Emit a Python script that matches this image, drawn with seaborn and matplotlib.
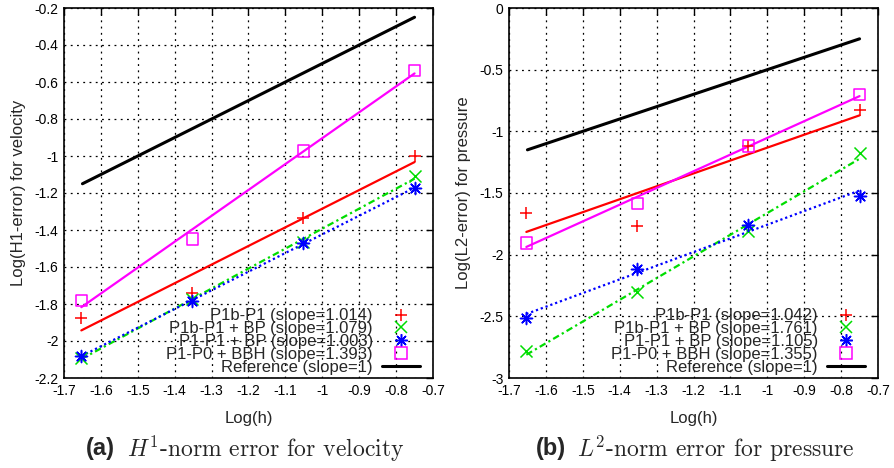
import matplotlib
matplotlib.use("Agg")
import matplotlib.pyplot as plt
import numpy as np
import pandas as pd
import seaborn as sns
from matplotlib.lines import Line2D
from matplotlib.ticker import FuncFormatter, MultipleLocator

# log10 of mesh size
log_h = [-1.653, -1.352, -1.051, -0.750]

series_names = ["P1b-P1", "P1b-P1 + BP", "P1-P1 + BP", "P1-P0 + BBH"]

# velocity, H1 error (log10)
vel_p1b_p1 = [-1.876, -1.74, -1.335, -1.00]
vel_p1b_p1_bp = [-2.09, -1.775, -1.465, -1.11]
vel_p1_p1_bp = [-2.08, -1.784, -1.47, -1.173]
vel_p1_p0_bbh = [-1.782, -1.45, -0.973, -0.537]
vel_slopes = ["1.014", "1.079", "1.003", "1.393"]

# pressure, L2 error (log10)
pres_p1b_p1 = [-1.66, -1.768, -1.117, -0.827]
pres_p1b_p1_bp = [-2.78, -2.30, -1.81, -1.178]
pres_p1_p1_bp = [-2.517, -2.12, -1.76, -1.525]
pres_p1_p0_bbh = [-1.903, -1.584, -1.117, -0.70]
pres_slopes = ["1.042", "1.761", "1.105", "1.355"]

# slope-1 reference line
ref_x = [-1.65, -0.75]
vel_ref_y = [-1.15, -0.25]
pres_ref_y = [-1.15, -0.25]

colors = ["#ff0000", "#00dd00", "#0000ff", "#ff00ff"]
markers = ["+", "x", (8, 2, 0), "s"]
line_styles = ["-", (0, (3, 1.5, 1, 1.5)), (0, (1, 1.3)), "-"]

sns.set_style("white")
plt.rcParams["font.family"] = ["Liberation Sans", "DejaVu Sans"]
plt.rcParams["axes.unicode_minus"] = False
plt.rcParams["mathtext.fontset"] = "cm"


def draw_panel(ax, series, slopes, ref_y, ylim, ystep, ylabel):
    handles = []
    labels = []
    for name, values, slope, color, marker, ls in zip(series_names, series, slopes,
                                                      colors, markers, line_styles):
        df = pd.DataFrame({"x": log_h, "y": values})
        # least squares fit line through the measured points
        k, b = np.polyfit(df["x"], df["y"], 1)
        df["fit"] = k * df["x"] + b
        sns.lineplot(data=df, x="x", y="fit", ax=ax, color=color, linestyle=ls,
                     linewidth=1.6, zorder=3)
        if marker == "s":
            sns.scatterplot(data=df, x="x", y="y", ax=ax, marker="s", s=70,
                            facecolor="none", edgecolor=color, linewidth=1.1, zorder=4)
            h = Line2D([], [], ls="none", marker="s", markersize=8.5,
                       markerfacecolor="none", markeredgecolor=color, markeredgewidth=1.1)
        else:
            sns.scatterplot(data=df, x="x", y="y", ax=ax, marker=marker, s=75,
                            color=color, linewidth=1.1, zorder=4)
            h = Line2D([], [], ls="none", marker=marker, markersize=9,
                       color=color, markeredgewidth=1.1)
        handles.append(h)
        labels.append(f"{name} (slope={slope})")

    ref = pd.DataFrame({"x": ref_x, "y": ref_y})
    sns.lineplot(data=ref, x="x", y="y", ax=ax, color="black", linewidth=2.2, zorder=5)
    handles.append(Line2D([], [], color="black", linewidth=2.2))
    labels.append("Reference (slope=1)")

    ax.set_xlim(-1.7, -0.7)
    ax.set_ylim(*ylim)
    ax.xaxis.set_major_locator(MultipleLocator(0.1))
    ax.yaxis.set_major_locator(MultipleLocator(ystep))
    fmt = FuncFormatter(lambda v, pos: "%g" % round(v, 6))
    ax.xaxis.set_major_formatter(fmt)
    ax.yaxis.set_major_formatter(fmt)
    ax.tick_params(direction="in", length=5, width=1, top=True, right=True,
                   labelsize=10, pad=4, colors="black")
    ax.grid(True, color="black", linestyle=(0, (1.5, 3.5)), linewidth=0.9)
    for sp in ax.spines.values():
        sp.set_color("black")
        sp.set_linewidth(1.2)
    ax.set_xlabel("Log(h)", fontsize=12, labelpad=10)
    ax.set_ylabel(ylabel, fontsize=12, labelpad=6)

    # markerfirst=False right-aligns the rows, so texts end flush before the samples
    leg = ax.legend(handles, labels, loc="lower right", bbox_to_anchor=(0.975, 0.0),
                    markerfirst=False, frameon=False, fontsize=12, handlelength=2.3,
                    handletextpad=0.55, labelspacing=-0.13, borderaxespad=0.1,
                    borderpad=0.1)
    leg.set_zorder(10)
    return leg


fig, axes = plt.subplots(1, 2, figsize=(8.94, 4.68), dpi=100)

draw_panel(axes[0], [vel_p1b_p1, vel_p1b_p1_bp, vel_p1_p1_bp, vel_p1_p0_bbh],
           vel_slopes, vel_ref_y, (-2.2, -0.2), 0.2, "Log(H1-error) for velocity")
draw_panel(axes[1], [pres_p1b_p1, pres_p1b_p1_bp, pres_p1_p1_bp, pres_p1_p0_bbh],
           pres_slopes, pres_ref_y, (-3, 0), 0.5, "Log(L2-error) for pressure")
axes[0].set_position([64 / 894, 1 - 378 / 468, 369 / 894, 370 / 468])
axes[1].set_position([509 / 894, 1 - 378 / 468, 369 / 894, 370 / 468])

# sub-captions
cap_y = 1 - 449 / 468
fig.text(86 / 894, cap_y, "(a)", fontsize=17, fontweight="bold", va="center")
fig.text(127 / 894, cap_y, r"$H^1$-norm error for velocity", fontsize=17,
         family="cmr10", va="center")
fig.text(536 / 894, cap_y, "(b)", fontsize=17, fontweight="bold", va="center")
fig.text(577 / 894, cap_y, r"$L^2$-norm error for pressure", fontsize=17,
         family="cmr10", va="center")

fig.savefig("out.png", dpi=100)
